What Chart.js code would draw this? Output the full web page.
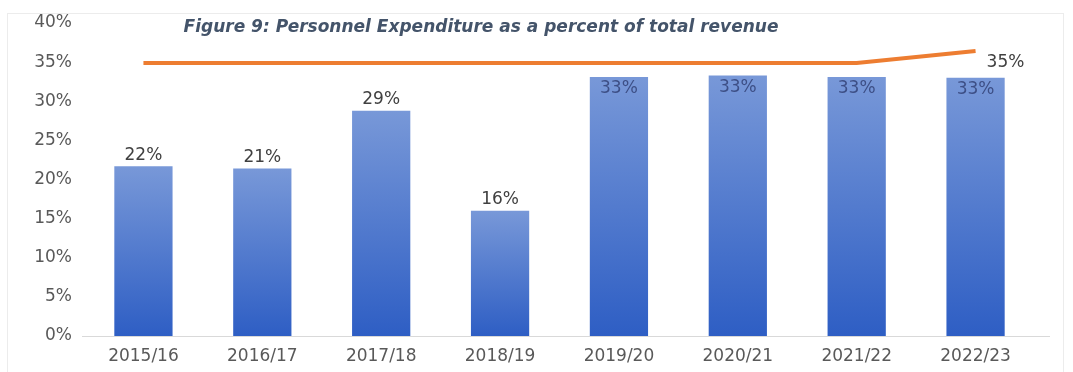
<!DOCTYPE html>
<html>
<head>
<meta charset="utf-8">
<script src="https://cdn.jsdelivr.net/npm/chart.js@4.4.1/dist/chart.umd.min.js"></script>
<style>
  html, body { margin: 0; padding: 0; background: #fff; }
  #wrap { width: 1073px; height: 372px; position: relative; }
</style>
</head>
<body>
<div id="wrap"><canvas id="chart"></canvas></div>
<script>
// Data
const years = ["2015/16", "2016/17", "2017/18", "2018/19", "2019/20", "2020/21", "2021/22", "2022/23"];
const personnelPct = [21.7, 21.4, 28.8, 16.0, 33.1, 33.3, 33.1, 33.0];
const ceilingPct = [35, 35, 35, 35, 35, 35, 35, 35.4];
const yTicks = [0, 5, 10, 15, 20, 25, 30, 35, 40];
const titleText = "Figure 9: Personnel Expenditure as a percent of total revenue";

const FONT = '"DejaVu Sans", sans-serif';
const pct = v => Math.round(v) + "%";

// Per-bar vertical gradient, light at the top, darker at the base
function barFill(c) {
  const chart = c.chart;
  const y = chart.scales.y;
  if (!y || c.raw == null) return "#4472c4";
  const top = y.getPixelForValue(c.raw);
  const base = y.getPixelForValue(0);
  if (!isFinite(top) || !isFinite(base) || top === base) return "#4472c4";
  const g = chart.ctx.createLinearGradient(0, top, 0, base);
  g.addColorStop(0, "#7898d8");
  g.addColorStop(1, "#2e5ec4");
  return g;
}

// Frame, baseline, title and value labels
const decor = {
  id: "decor",
  beforeDraw(chart) {
    const ctx = chart.ctx;
    ctx.save();
    ctx.strokeStyle = "#ececec";
    ctx.lineWidth = 1;
    ctx.strokeRect(7.5, 13.5, 1056, 380);
    // category axis line runs a little past the last category
    const yb = Math.round(chart.chartArea.bottom) + 0.5;
    ctx.strokeStyle = "#d9d9d9";
    ctx.beginPath();
    ctx.moveTo(82, yb);
    ctx.lineTo(1050, yb);
    ctx.stroke();
    ctx.restore();
  },
  afterDatasetsDraw(chart) {
    const ctx = chart.ctx;
    ctx.save();
    ctx.font = "17px " + FONT;
    ctx.textAlign = "center";
    ctx.textBaseline = "middle";

    const bars = chart.getDatasetMeta(1).data;
    bars.forEach((bar, i) => {
      const v = personnelPct[i];
      if (v >= 30) {
        ctx.fillStyle = "#3d4f86";
        ctx.fillText(pct(v), bar.x, bar.y + 12);
      } else {
        ctx.fillStyle = "#404040";
        ctx.fillText(pct(v), bar.x, bar.y - 11);
      }
    });

    const pts = chart.getDatasetMeta(0).data;
    const last = pts[pts.length - 1];
    ctx.fillStyle = "#404040";
    ctx.textAlign = "left";
    ctx.fillText(pct(ceilingPct[ceilingPct.length - 1]), last.x + 11, last.y + 12);

    ctx.font = "italic bold 17px " + FONT;
    ctx.fillStyle = "#44546a";
    ctx.textAlign = "center";
    ctx.fillText(titleText, 481, 28);
    ctx.restore();
  }
};

new Chart(document.getElementById("chart"), {
  data: {
    labels: years,
    datasets: [
      {
        type: "line",
        data: ceilingPct,
        yAxisID: "y2",
        borderColor: "#ed7d31",
        borderWidth: 4,
        pointRadius: 0,
        tension: 0,
        order: 0
      },
      {
        type: "bar",
        data: personnelPct,
        yAxisID: "y",
        backgroundColor: barFill,
        categoryPercentage: 1,
        barPercentage: 0.49,
        order: 1
      }
    ]
  },
  plugins: [decor],
  options: {
    responsive: true,
    maintainAspectRatio: false,
    animation: false,
    layout: { padding: { top: 23, right: 38, bottom: 0, left: 0 } },
    plugins: { legend: { display: false }, tooltip: { enabled: false }, title: { display: false } },
    scales: {
      x: {
        grid: { display: false, drawTicks: false },
        border: { display: false },
        ticks: { color: "#595959", font: { family: FONT, size: 17 }, padding: 10 },
        afterFit(s) { s.height = 36; }
      },
      y: {
        min: 0,
        max: 40,
        grid: { display: false, drawTicks: false },
        border: { display: false },
        afterBuildTicks(s) { s.ticks = yTicks.map(v => ({ value: v })); },
        ticks: { color: "#595959", font: { family: FONT, size: 17 }, padding: 12, callback: v => v + "%" },
        afterFit(s) { s.width = 84; }
      },
      // secondary scale for the ceiling line
      y2: {
        display: false,
        min: 25.9,
        max: 36.33
      }
    }
  }
});
</script>
</body>
</html>
